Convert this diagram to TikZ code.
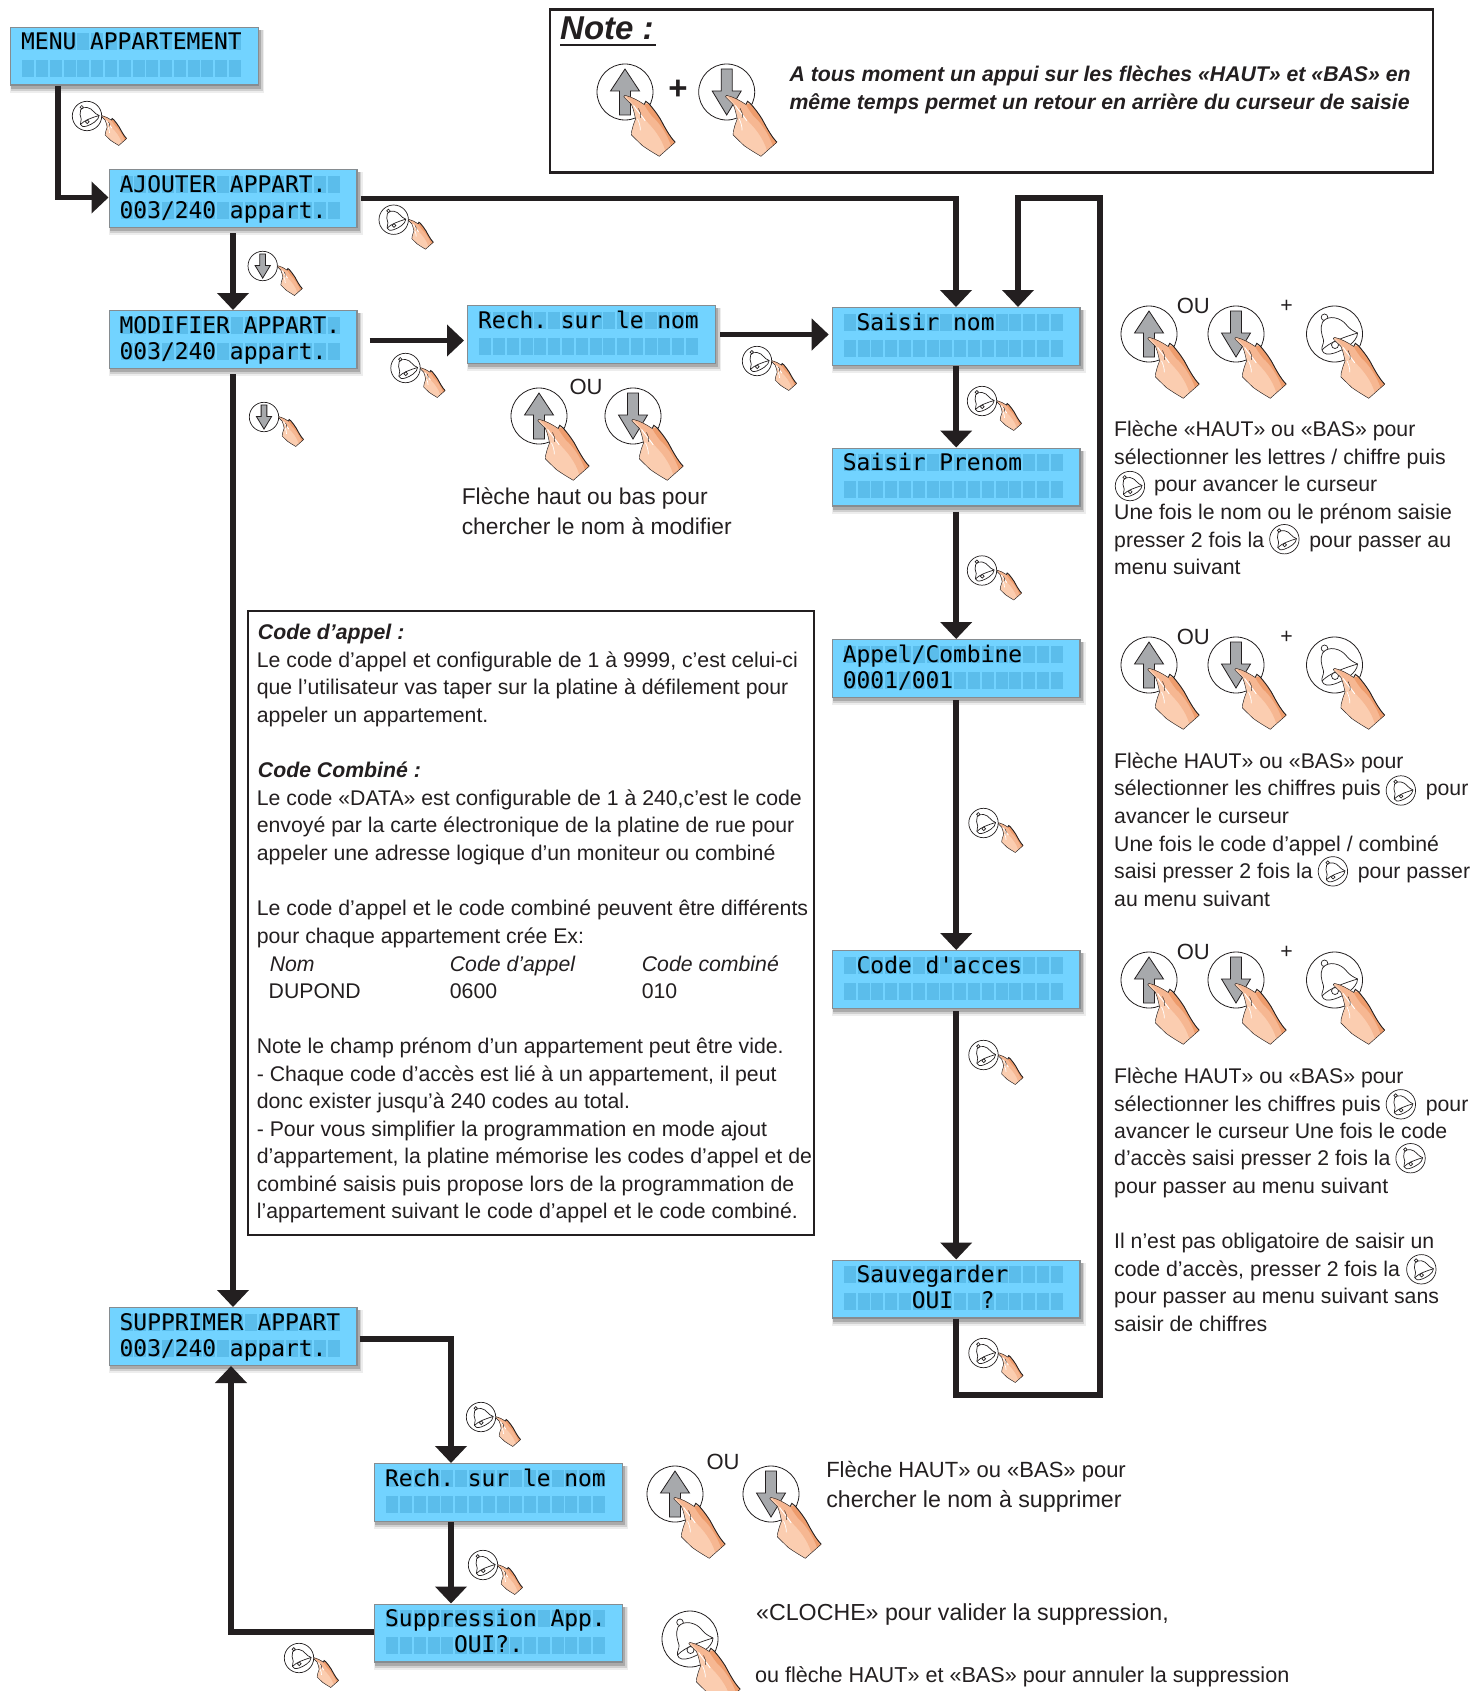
\documentclass[tikz,border=0pt]{standalone}
\usepackage{fontspec}
\setmainfont{Liberation Sans}
\newfontfamily\lcdfont{DejaVu Sans Mono}
\usetikzlibrary{arrows.meta}
\definecolor{ink}{HTML}{231F20}
\definecolor{lcdbg}{HTML}{72D3FF}
\definecolor{lcdcell}{HTML}{5BBDEB}
\definecolor{lcdedge}{HTML}{868C90}
\definecolor{peach}{HTML}{FBCDB0}
\definecolor{peachmid}{HTML}{F6B792}
\definecolor{peachdk}{HTML}{EE9C6C}
\definecolor{btngrey}{HTML}{A7A9AC}
\tikzset{
  lcdbox/.style={draw=lcdedge,line width=1.4pt,fill=lcdbg,minimum width=247.6pt,minimum height=57.6pt,inner sep=0pt,anchor=north west},
  lcdtxt/.style={inner sep=0pt,anchor=base west,text=black,font=\lcdfont\fontsize{22.9}{24}\selectfont},
  conn/.style={draw=ink,line width=5.6pt,-{Triangle[length=17pt,width=31pt]}},
  framebox/.style={draw=ink,line width=2.4pt},
  body/.style={inner sep=0pt,anchor=base west,text=ink,font=\fontsize{21.25}{24}\selectfont},
  bodyit/.style={body,font=\fontsize{21.25}{24}\selectfont\itshape},
  bodybi/.style={body,font=\fontsize{21.25}{24}\selectfont\bfseries\itshape},
  bodya/.style={body,font=\fontsize{22.8}{24}\selectfont},
  bodyb/.style={body,font=\fontsize{22}{24}\selectfont},
  bodyc/.style={body,font=\fontsize{23.2}{24}\selectfont},
  bodyd/.style={body,font=\fontsize{21.6}{24}\selectfont},
  pics/handshape/.style={code={
    % palm and finger
    \fill[peach] (0,3.5) .. controls (7,5) and (14,9) .. (20,13) -- (21.7,9.7) -- (25,12.3) .. controls (29,17) and (33,22) .. (36.7,28) .. controls (40,34) and (46,46) .. (52.3,52.3) -- (35.7,67) .. controls (29,63) and (24,60) .. (18.3,56) .. controls (14,52) and (10,48) .. (6.7,44.7) .. controls (6.5,42) and (7,40) .. (7.7,38) .. controls (8.5,34) and (10,31) .. (11,28) .. controls (10,24) and (9,18) .. (6.7,13) -- (-0.7,5.7) .. controls (-1.5,5) and (-1.5,4) .. (0,3.5) -- cycle;
    % shading
    \fill[peachmid] (2,3.8) .. controls (7,5) and (14,9) .. (20,13) -- (25,12.3) .. controls (29,17) and (33,22) .. (36.7,28) .. controls (40,34) and (46,46) .. (52.3,52.3) -- (42,61) .. controls (38,48) and (30,38) .. (22,30) .. controls (15,22) and (9,12) .. (2,5.5) -- cycle;
    \fill[peachdk] (20,13) -- (25,12.3) .. controls (29,17) and (33,22) .. (36.7,28) .. controls (40,34) and (46,46) .. (52.3,52.3) -- (48,56) .. controls (44,44) and (36,32) .. (28,25) .. controls (25,21) and (22,17) .. (20,13) -- cycle;
    % white streaks between the fingers
    \draw[white,line width=.9pt] (9,14) .. controls (13,20) and (17,24) .. (21,30);
    \draw[white,line width=.7pt] (13,28) .. controls (15,32) and (16,36) .. (16,40);
    % contour
    \draw[ink,line width=.9pt] (20,13) -- (21.7,9.7) -- (25,12.3) .. controls (29,17) and (33,22) .. (36.7,28) .. controls (40,34) and (46,46) .. (52.3,52.3);
    \draw[ink,line width=.45pt] (52.3,52.3) -- (35.7,67) .. controls (29,63) and (24,60) .. (18.3,56) .. controls (14,52) and (10,48) .. (6.7,44.7) .. controls (6.5,42) and (7,40) .. (7.7,38) .. controls (8.5,34) and (10,31) .. (11,28) .. controls (10,24) and (9,18) .. (6.7,13) -- (-0.7,5.7) .. controls (-1.5,5) and (-1.5,4) .. (0,3.5) .. controls (7,5) and (14,9) .. (20,13);
    \draw[ink,line width=.4pt] (14,17) .. controls (16,20) and (17,24) .. (16,27);
  }},
  pics/glyphup/.style={code={
    \draw[ink,line width=.8pt,fill=btngrey] (0,-23) -- (14.5,-1) -- (5.5,-1) -- (5.5,23) -- (-5.5,23) -- (-5.5,-1) -- (-14.5,-1) -- cycle;
  }},
  pics/glyphdown/.style={code={
    \draw[ink,line width=.8pt,fill=btngrey] (0,23) -- (14.5,-1) -- (5.5,-1) -- (5.5,-23) -- (-5.5,-23) -- (-5.5,-1) -- (-14.5,-1) -- cycle;
  }},
  pics/glyphbell/.style={code={
    \draw[ink,line width=.7pt] (-10,-16.7) circle[radius=3.3];
    \draw[ink,line width=.7pt,fill=white] (-12,-12) .. controls (-14.5,-6) and (-13,0) .. (-11,6) .. controls (-10.5,10) and (-13.5,13) .. (-12.5,16) .. controls (-11.5,20.5) and (-6,21) .. (0,19) .. controls (9,16) and (23,8) .. (23,-1) .. controls (19,-3) and (15,-5) .. (12,-9) .. controls (7,-16) and (-6,-20) .. (-12,-12) -- cycle;
    \draw[ink,line width=.7pt] (-12.5,16) .. controls (-5,8) and (10,3) .. (23,-1);
    \draw[ink,line width=.7pt,fill=white] (0.5,11) circle[radius=3.5];
  }},
}
% large button with hand: #1 x, #2 y, #3 glyph
\newcommand{\bigbtn}[3]{%
  \begin{scope}[shift={(#1,#2)}]
    \draw[ink,line width=.8pt,fill=white] (0,0) circle[radius=28];
    \pic[transform shape] {glyph#3};
    \begin{scope}[scale=.96]
      \pic[transform shape] {handshape};
    \end{scope}
  \end{scope}}
% small button with hand
\newcommand{\smallbtn}[3]{%
  \begin{scope}[shift={(#1,#2)}]
    \begin{scope}[scale=.525]
      \draw[ink,line width=.7pt,fill=white] (0,0) circle[radius=28];
      \pic[transform shape] {glyph#3};
    \end{scope}
    \begin{scope}[shift={(15,-2)},scale=.47]
      \pic[transform shape] {handshape};
    \end{scope}
  \end{scope}}
% inline bell in running text (coordinates of the shrunk view)
\newcommand{\inbell}[2]{%
  \begin{scope}[shift={({#1*1.0784},{#2*1.0784})},scale=.525]
    \draw[ink,line width=.7pt,fill=white] (0,0) circle[radius=28];
    \pic[transform shape] {glyphbell};
  \end{scope}}
% LCD display
\newcommand{\lcd}[5]{%
  \fill[black,opacity=.07] (#2+0,#3+3) rectangle (#2+254,#3+66);
  \fill[black,opacity=.12] (#2+1,#3+3) rectangle (#2+252.5,#3+64);
  \fill[black,opacity=.18] (#2+1,#3+3) rectangle (#2+251,#3+62);
  \node[lcdbox] (#1) at (#2,#3) {};
  \foreach \i in {0,...,15}{
    \fill[lcdcell] ({#2+12.2+13.79*\i},#3+6.8) rectangle +(12,17);
    \fill[lcdcell] ({#2+12.2+13.79*\i},#3+33.4) rectangle +(12,17);
  }
  \node[lcdtxt] (#1-a) at (#2+11,#3+23.4) {#4};
  \node[lcdtxt] (#1-b) at (#2+11,#3+49.4) {#5};}
% one text line, coordinates of the shrunk view
\newcommand{\tl}[5][body]{\node[#1] (#2) at ({#3*1.0784},{#4*1.0784}) {#5};}
\begin{document}
\begin{tikzpicture}[x=1pt,y=-1pt]
\useasboundingbox (0,0) rectangle (1472,1691);
\clip (0,0) rectangle (1472,1691);
\fill[white] (0,0) rectangle (1472,1691);

% Note frame
\node[framebox,anchor=north west,minimum width=883pt,minimum height=163pt,inner sep=0pt] (notebox) at (548.5,8.2) {};
\node[inner sep=0pt,anchor=base west,text=ink,font=\fontsize{33}{36}\selectfont\bfseries\itshape] (notetitle) at (560,40) {Note :};
\draw[ink,line width=2.4pt] (notetitle.base west)+(0,5) -- +(96,5);
\tl[bodybi]{nt1}{732}{76}{A tous moment un appui sur les flèches «HAUT» et «BAS» en}
\tl[bodybi]{nt2}{732}{102}{même temps permet un retour en arrière du curseur de saisie}
\bigbtn{625}{92}{up}
\bigbtn{726.7}{92}{down}
\node[inner sep=0pt,text=ink,font=\fontsize{33}{36}\bfseries\selectfont] (plusn) at (678,90) {+};

% LCD displays
\lcd{menu}{10}{26.6}{MENU~APPARTEMENT}{}
\lcd{ajout}{108.5}{169}{AJOUTER~APPART.}{003/240~appart.}
\lcd{modif}{108.5}{310}{MODIFIER~APPART.}{003/240~appart.}
\lcd{rechA}{467}{305}{Rech.~sur~le~nom}{}
\lcd{snom}{831.7}{307}{~Saisir~nom}{}
\lcd{sprenom}{831.7}{447.5}{Saisir~Prenom}{}
\lcd{appel}{831.7}{639}{Appel/Combine}{0001/001}
\lcd{codeac}{831.7}{950}{~Code~d'acces}{}
\lcd{sauv}{831.7}{1259.5}{~Sauvegarder}{~~~~~OUI~~?}
\lcd{suppr}{108.5}{1307}{SUPPRIMER~APPART}{003/240~appart.}
\lcd{rechB}{374}{1463}{Rech.~sur~le~nom}{}
\lcd{suppapp}{374}{1603.5}{Suppression~App.}{~~~~~OUI?.}

% Connectors
\coordinate (c1) at (1018,198);
\coordinate (c2) at (1100,198);
\coordinate (c3) at (1100,1395);
\coordinate (c4) at (956,1395);
\coordinate (c5) at (956,198.5);
\coordinate (c6) at (451,1339);
\coordinate (c7) at (231,1632);
\draw[conn] ([xshift=48pt]menu.south west) |- ([yshift=1pt]ajout.west);
\draw[conn,shorten <=5pt] (ajout.south) -- (modif.north);
\draw[conn,shorten <=3pt] (ajout.east |- c5) -- (c5) -- (c5 |- snom.north);
\draw[conn,shorten <=12pt,shorten >=3pt] ([yshift=-1pt]modif.east) -- ([yshift=-1pt]modif.east -| rechA.west);
\draw[conn,shorten <=4pt,shorten >=3pt] (rechA.east) -- (rechA.east -| snom.west);
\draw[conn,shorten <=5pt] (modif.south) -- (suppr.north);
\draw[conn] (snom.south) -- (sprenom.north);
\draw[conn,shorten <=5pt] (sprenom.south) -- (appel.north);
\draw[conn,shorten <=2pt] (appel.south) -- (codeac.north);
\draw[conn,shorten <=2pt] (codeac.south) -- (sauv.north);
\draw[conn] (c4 |- sauv.south) -- (c4) -- (c3) -- (c2) -- (c1) -- (c1 |- snom.north);
\draw[conn,shorten <=2pt] (suppr.east |- c6) -- (c6) -- (c6 |- rechB.north);
\draw[conn] (c6 |- rechB.south) -- (c6 |- suppapp.north);
\draw[conn] (suppapp.west |- c7) -- (c7) -- (c7 |- suppr.south);

% Small buttons
\smallbtn{87}{116}{bell}
\smallbtn{393.7}{219.7}{bell}
\smallbtn{262.7}{266}{down}
\smallbtn{405.5}{368}{bell}
\smallbtn{264}{417}{down}
\smallbtn{757}{361}{bell}
\smallbtn{982}{401}{bell}
\smallbtn{982}{570.5}{bell}
\smallbtn{983.5}{823}{bell}
\smallbtn{983.5}{1055}{bell}
\smallbtn{983.5}{1353}{bell}
\smallbtn{481}{1417}{bell}
\smallbtn{483}{1565}{bell}
\smallbtn{299}{1658}{bell}

% Search group
\bigbtn{539}{416}{up}
\bigbtn{633}{416}{down}
\tl[bodyb]{ouA}{528}{366}{OU}
\tl[bodya]{sa1}{428}{468}{Flèche haut ou bas pour}
\tl[bodya]{sa2}{428}{496}{chercher le nom à modifier}

% Code box
\node[framebox,fill=white,anchor=north west,minimum width=566pt,minimum height=624pt,inner sep=0pt] (codebox) at (246.5,610) {};
\tl[bodybi]{cb1}{239}{593}{Code d’appel :}
\tl{cb2}{238}{619}{Le code d’appel et configurable de 1 à 9999, c’est celui-ci}
\tl{cb3}{238}{644}{que l’utilisateur vas taper sur la platine à défilement pour}
\tl{cb4}{238}{670}{appeler un appartement.}
\tl[bodybi]{cb5}{239}{721}{Code Combiné :}
\tl{cb6}{238}{747}{Le code «DATA» est configurable de 1 à 240,c’est le code}
\tl{cb7}{238}{772}{envoyé par la carte électronique de la platine de rue pour}
\tl{cb8}{238}{798}{appeler une adresse logique d’un moniteur ou combiné}
\tl{cb9}{238}{849}{Le code d’appel et le code combiné peuvent être différents}
\tl{cb10}{238}{875}{pour chaque appartement crée Ex:}
\tl[bodyit]{cb11}{250}{901}{Nom}
\tl[bodyit]{cb12}{417}{901}{Code d’appel}
\tl[bodyit]{cb13}{595}{901}{Code combiné}
\tl{cb14}{249}{926}{DUPOND}
\tl{cb15}{417}{926}{0600}
\tl{cb16}{595}{926}{010}
\tl{cb17}{238}{977}{Note le champ prénom d’un appartement peut être vide.}
\tl{cb18}{238}{1003}{- Chaque code d’accès est lié à un appartement, il peut}
\tl{cb19}{238}{1028}{donc exister jusqu’à 240 codes au total.}
\tl{cb20}{238}{1054}{- Pour vous simplifier la programmation en mode ajout}
\tl{cb21}{238}{1079}{d’appartement, la platine mémorise les codes d’appel et de}
\tl{cb22}{238}{1105}{combiné saisis puis propose lors de la programmation de}
\tl{cb23}{238}{1130}{l’appartement suivant le code d’appel et le code combiné.}

% Right column groups
\bigbtn{1149}{334}{up}
\bigbtn{1236}{334}{down}
\bigbtn{1334.5}{334}{bell}
\tl[bodyb]{ou1}{1091}{291}{OU}
\tl{pl1}{1187}{290}{+}
\tl{r1}{1033}{405}{Flèche «HAUT» ou «BAS» pour}
\tl{r2}{1033}{431}{sélectionner les lettres / chiffre puis}
\inbell{1047.8}{450.7}
\tl{r3}{1070}{456}{pour avancer le curseur}
\tl{r4}{1033}{482}{Une fois le nom ou le prénom saisie}
\tl{r5}{1033}{508}{presser 2 fois la}
\inbell{1191}{500}
\tl{r5b}{1214}{508}{pour passer au}
\tl{r6}{1033}{533}{menu suivant}

\bigbtn{1149}{665}{up}
\bigbtn{1236}{665}{down}
\bigbtn{1334.5}{665}{bell}
\tl[bodyb]{ou2}{1091}{598}{OU}
\tl{pl2}{1187}{597}{+}
\tl{s1}{1033}{713}{Flèche HAUT» ou «BAS» pour}
\tl{s2}{1033}{738}{sélectionner les chiffres puis}
\inbell{1299}{733}
\tl{s2b}{1322}{738}{pour}
\tl{s3}{1033}{764}{avancer le curseur}
\tl{s4}{1033}{790}{Une fois le code d’appel / combiné}
\tl{s5}{1033}{815}{saisi presser 2 fois la}
\inbell{1236}{808}
\tl{s5b}{1259}{815}{pour passer}
\tl{s6}{1033}{841}{au menu suivant}

\bigbtn{1149}{980}{up}
\bigbtn{1236}{980}{down}
\bigbtn{1334.5}{980}{bell}
\tl[bodyb]{ou3}{1091}{890}{OU}
\tl{pl3}{1187}{889}{+}
\tl{u1}{1033}{1005}{Flèche HAUT» ou «BAS» pour}
\tl{u2}{1033}{1031}{sélectionner les chiffres puis}
\inbell{1299}{1024}
\tl{u2b}{1322}{1031}{pour}
\tl{u3}{1033}{1056}{avancer le curseur Une fois le code}
\tl{u4}{1033}{1081}{d’accès saisi presser 2 fois la}
\inbell{1308}{1074}
\tl{u5}{1033}{1107}{pour passer au menu suivant}
\tl{v1}{1033}{1158}{Il n’est pas obligatoire de saisir un}
\tl{v2}{1033}{1184}{code d’accès, presser 2 fois la}
\inbell{1318}{1177}
\tl{v3}{1033}{1209}{pour passer au menu suivant sans}
\tl{v4}{1033}{1235}{saisir de chiffres}

% Bottom group
\bigbtn{675}{1494}{up}
\bigbtn{771}{1494}{down}
\tl[bodyb]{ou4}{655}{1363}{OU}
\tl[bodyb]{w1}{766}{1370}{Flèche HAUT» ou «BAS» pour}
\tl[bodyc]{w2}{766}{1398}{chercher le nom à supprimer}
\bigbtn{690}{1639}{bell}
\tl[bodyc]{w3}{701}{1503}{«CLOCHE» pour valider la suppression,}
\tl[bodyd]{w4}{700}{1560}{ou flèche HAUT» et «BAS» pour annuler la suppression}
\end{tikzpicture}
\end{document}
